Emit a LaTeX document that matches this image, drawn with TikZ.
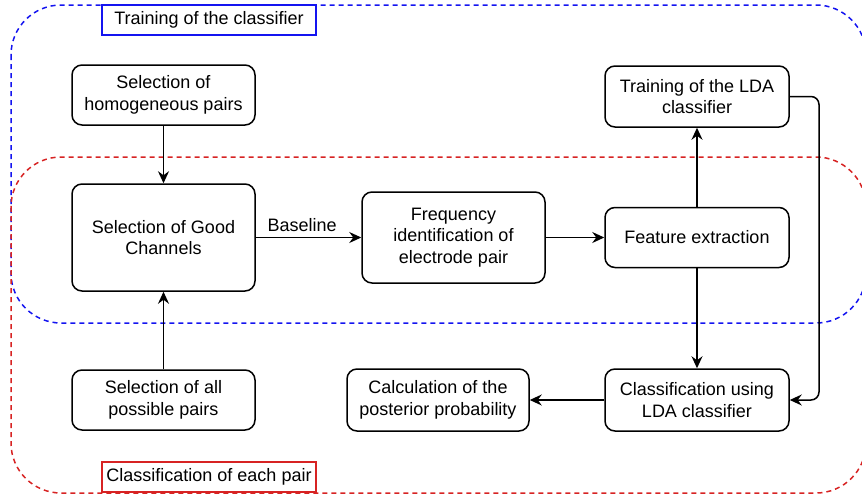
\documentclass[tikz,border=0pt]{standalone}
\usepackage{fontspec}
\setmainfont{Liberation Sans}
\usetikzlibrary{arrows.meta}
\definecolor{grpblue}{RGB}{20,20,240}
\definecolor{grpred}{RGB}{215,35,35}
\tikzset{
  box/.style={draw=black, line width=1.5pt, rounded corners=10pt, fill=white,
    align=center, inner sep=2pt, font=\fontsize{18}{21.5}\selectfont},
  grp/.style={dashed, dash pattern=on 5pt off 4pt, line width=1.5pt, rounded corners=50pt},
  grplabel/.style={draw, line width=1.5pt, fill=white, minimum width=214pt, minimum height=30pt,
    inner sep=0pt, font=\fontsize{18}{21.5}\selectfont},
  conn/.style={line width=1.5pt, -{Stealth[length=12pt,width=11pt,inset=4pt]}},
}
\begin{document}
\begin{tikzpicture}[x=1pt,y=-1pt]
\useasboundingbox (0,0) rectangle (862,498);
% group frames
\draw[grp, grpblue] (11,5) rectangle (866,323);
\draw[grp, grpred] (11,157) rectangle (866,493);
\node[grplabel, draw=grpblue] (lblA) at (209,20) {Training of the classifier};
\node[grplabel, draw=grpred] (lblB) at (209,477) {Classification of each pair};
% boxes
\node[box, minimum width=183pt, minimum height=60pt] (hom) at (163.5,95) {Selection of\\homogeneous pairs};
\node[box, minimum width=183pt, minimum height=107pt] (good) at (163.5,237.5) {Selection of Good\\Channels};
\node[box, minimum width=183pt, minimum height=60pt] (allp) at (163.5,400) {Selection of all\\possible pairs};
\node[box, minimum width=183pt, minimum height=91pt] (freq) at (453.5,237.5) {Frequency\\identification of\\electrode pair};
\node[box, minimum width=184pt, minimum height=60pt] (feat) at (697,237.5) {Feature extraction};
\node[box, minimum width=184pt, minimum height=61pt] (lda) at (697,96.5) {Training of the LDA\\classifier};
\node[box, minimum width=184pt, minimum height=62pt] (cls) at (697,400) {Classification using\\LDA classifier};
\node[box, minimum width=182pt, minimum height=62pt] (calc) at (438,400) {Calculation of the\\posterior probability};
% connectors
\draw[conn] (hom) -- (good);
\draw[conn] (allp) -- (good);
\draw[conn] (good.east) -- node[above, pos=0.44, font=\fontsize{18}{21.5}\selectfont, inner sep=5pt] {Baseline} (freq.west);
\draw[conn] (freq.east) -- (feat.west);
\draw[conn] (feat) -- (lda);
\draw[conn] (feat) -- (cls);
\draw[conn] (cls.west) -- (calc.east);
\coordinate (rtop) at (819,96.5);
\coordinate (rbot) at (819,400);
\draw[conn, rounded corners=8pt] (lda.east) -- (rtop) -- (rbot) -- (cls.east);
\end{tikzpicture}
\end{document}
